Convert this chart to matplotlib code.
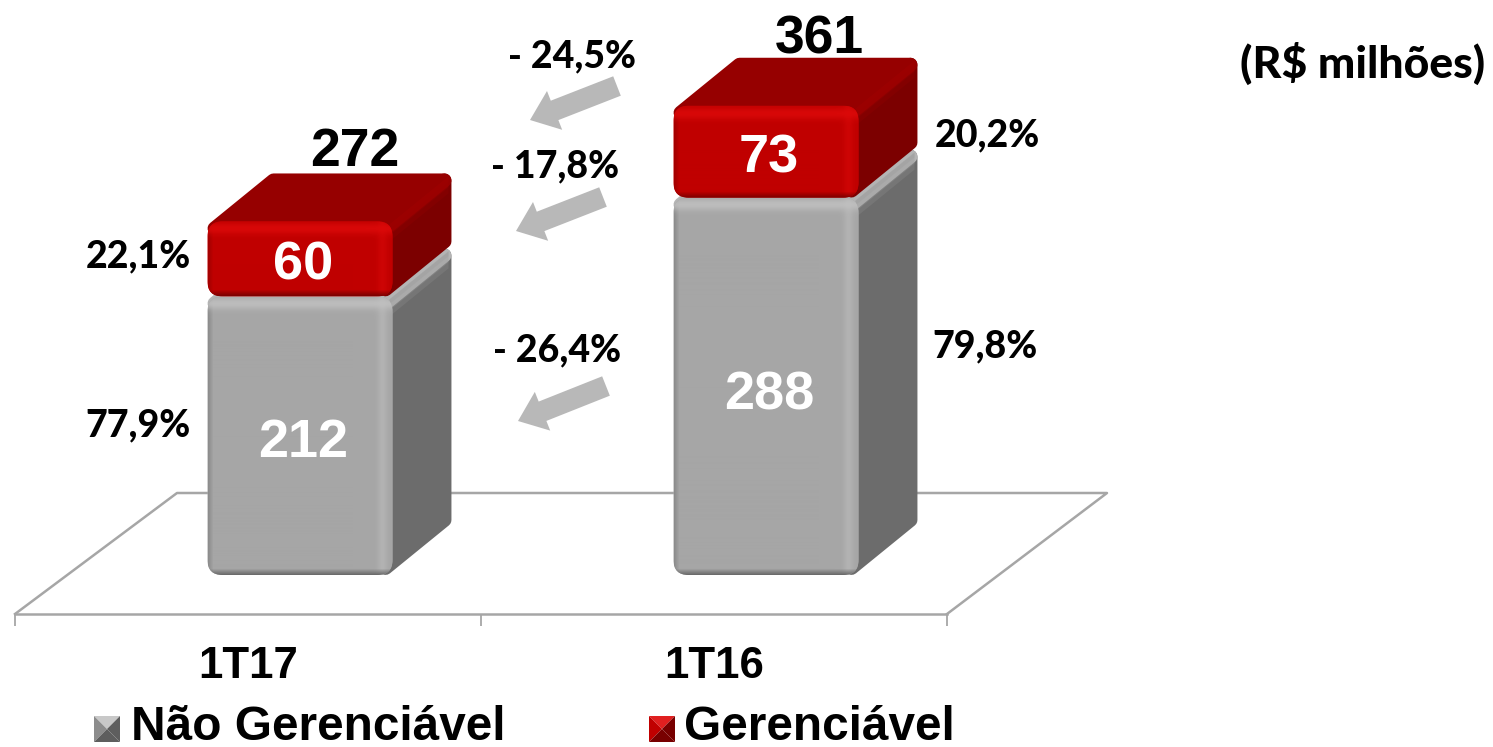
import matplotlib
matplotlib.use('Agg')
import matplotlib.pyplot as plt
import numpy as np
from matplotlib.colors import to_rgb
from matplotlib.patches import FancyBboxPatch, Polygon

W, H = 1493, 747

quarters = ['1T17', '1T16']
nao_gerenciavel = [212, 288]
gerenciavel = [60, 73]
totais = [272, 361]
pct_nao = ['77,9%', '79,8%']
pct_ger = ['22,1%', '20,2%']
variacoes = ['- 26,4%', '- 17,8%', '- 24,5%']

SANS = 'Liberation Sans'
LABEL = 'Lato'

fig = plt.figure(figsize=(W / 100, H / 100), dpi=100, facecolor='white')
# the axes box is the front edge of the 3d floor
ax = fig.add_axes([15 / W, (H - 614) / H, (947 - 15) / W, 614 / H])
PX_Y = 1.3
PX_X = 466
ax.set_xlim(-0.5, 1.5)
ax.set_ylim(-39 / PX_Y, 575 / PX_Y)
ax.patch.set_alpha(0)
for s in ['top', 'left', 'right']:
    ax.spines[s].set_visible(False)
ax.spines['bottom'].set_color('#a6a6a6')
ax.spines['bottom'].set_linewidth(1.8)
ax.set_yticks([])
ax.set_xticks([-0.5, 0.5, 1.5])
ax.set_xticklabels([])
ax.tick_params(axis='x', which='major', length=8.5, width=1.3, color='#a6a6a6')
ax.set_xticks([0, 1], minor=True)
ax.set_xticklabels(quarters, minor=True, fontsize=31.5, fontweight='bold', family=SANS)
ax.tick_params(axis='x', which='minor', length=0, pad=23)

BAR_W = 185 / PX_X
OFF = 52 / PX_X
DX = 59 / PX_X
DY = 48 / PX_Y


def dx(px):
    return px / PX_X


def dy(px):
    return px / PX_Y


# floor back and side edges
floor_y0 = ax.get_ylim()[0]
floor_col = '#a6a6a6'
ax.plot([-0.5, -0.5 + dx(162), 1.5 + dx(160), 1.5],
        [floor_y0, floor_y0 + dy(121), floor_y0 + dy(121), floor_y0],
        color=floor_col, lw=1.8, zorder=1, clip_on=False)


def front_img(base, light, dark, h_px):
    # bevel shading for the front face, purely cosmetic
    n = 185
    m = int(h_px)
    base, light, dark = np.array(base), np.array(light), np.array(dark)
    img = np.tile(base, (m, n, 1))
    u = np.arange(n)[None, :, None]
    v = np.arange(m)[:, None, None]
    band = 0.45 * np.exp(-((u - 174) / 5.0) ** 2)
    img = img * (1 - band) + light * band
    left = 0.35 * np.clip((5 - u) / 5.0, 0, 1)
    img = img * (1 - left) + dark * left
    top = 0.8 * np.exp(-((v - 7) / 6.0) ** 2)
    img = img * (1 - top) + light * top
    bot = 0.95 * np.clip((v - (m - 7)) / 7.0, 0, 1)
    img = img * (1 - bot) + dark * bot
    return img


def draw_bar(x, bottom, height, base, top_col, side_col, side_light, hi, dark, z):
    x0 = x + OFF - BAR_W / 2
    x1 = x0 + BAR_W
    y0 = bottom
    y1 = bottom + height
    ix, iy = dx(7), dy(7)
    side = Polygon([[x1 - ix, y0 + iy], [x1 + DX - ix, y0 + DY + iy],
                    [x1 + DX - ix, y1 + DY - iy], [x1 - ix, y1 - iy]],
                   closed=True, fc=side_col, ec=side_col, lw=10, joinstyle='round', zorder=z)
    ax.add_patch(side)
    top = Polygon([[x0 + ix, y1 - iy], [x0 + DX + ix, y1 + DY - iy],
                   [x1 + DX - ix, y1 + DY - iy], [x1 - ix, y1 - iy]],
                  closed=True, fc=top_col, ec=top_col, lw=10, joinstyle='round', zorder=z)
    ax.add_patch(top)
    # soft lighter strip on the side face, along its top edge
    for k, a in [(8, 0.45), (14, 0.3), (20, 0.2)]:
        strip = Polygon([[x1 - dx(3), y1 - dy(3)], [x1 + DX - dx(3), y1 + DY - dy(3)],
                         [x1 + DX - dx(3), y1 + DY - dy(k)], [x1 - dx(3), y1 - dy(k)]],
                        closed=True, fc=side_light, ec='none', alpha=a, zorder=z)
        ax.add_patch(strip)
    box = FancyBboxPatch((x0, y0), BAR_W, height,
                         boxstyle='round,pad=0,rounding_size=%f' % dx(15),
                         mutation_aspect=PX_X / PX_Y, fc=base, ec='none', zorder=z + 0.1)
    ax.add_patch(box)
    im = ax.imshow(front_img(to_rgb(base), to_rgb(hi), to_rgb(dark), height * PX_Y),
                   extent=[x0, x1, y0, y1], aspect='auto', zorder=z + 0.2)
    im.set_clip_path(box)


# the red block starts a little above the value, as in the source chart
SEAM = dy(3)
for i in range(len(quarters)):
    z = 3 + i
    draw_bar(i, 0, nao_gerenciavel[i] + SEAM, '#a6a6a6', '#b4b4b4', '#6c6c6c', '#a0a0a0',
             '#c2c2c2', '#5e5e5e', z)
    draw_bar(i, nao_gerenciavel[i] + SEAM, gerenciavel[i] - SEAM, '#c00000', '#960000', '#7c0000', '#a00000',
             '#de0a0a', '#6e0000', z + 0.5)
    cx = i + OFF + dx(3)
    ax.text(cx, nao_gerenciavel[i] * 0.48, str(nao_gerenciavel[i]), color='white', fontsize=39,
            fontweight='bold', family=SANS, ha='center', va='center', zorder=8)
    ax.text(cx, nao_gerenciavel[i] + gerenciavel[i] * 0.44, str(gerenciavel[i]), color='white',
            fontsize=39, fontweight='bold', family=SANS, ha='center', va='center', zorder=8)

ax.set_xlim(-0.5, 1.5)
ax.set_ylim(-39 / PX_Y, 575 / PX_Y)


def px_text(px, py, s, **kw):
    fig.text(px / W, 1 - py / H, s, ha='center', va='center', **kw)


# totals sit above the bars
px_text(355, 152, str(totais[0]), fontsize=38.5, fontweight='bold', family=SANS)
px_text(819, 39, str(totais[1]), fontsize=38.5, fontweight='bold', family=SANS)

lab = dict(fontsize=27, fontweight='black', family=LABEL)
px_text(138, 256, pct_ger[0], **lab)
px_text(138, 425, pct_nao[0], **lab)
px_text(987, 135, pct_ger[1], **lab)
px_text(985, 346, pct_nao[1], **lab)
px_text(572, 56, variacoes[2], **lab)
px_text(555, 166, variacoes[1], **lab)
px_text(557, 350, variacoes[0], **lab)
px_text(1363, 63, '(R$ milhões)', fontsize=32, fontweight='black', family=LABEL)

# grey arrows between the periods
for tail, tip in [((617, 86), (530, 120)), ((603, 197), (516, 231)), ((606, 386), (518, 421))]:
    ax.annotate('', xy=(tip[0], H - tip[1]), xytext=(tail[0], H - tail[1]),
                xycoords='figure pixels', textcoords='figure pixels',
                arrowprops=dict(arrowstyle='simple,head_width=30,head_length=19,tail_width=15',
                                mutation_scale=1, color='#b8b8b8', lw=0, shrinkA=0, shrinkB=0))


def legend_key(px, py, size, mid, light, dark):
    key = fig.add_axes([px / W, 1 - (py + size) / H, size / W, size / H])
    key.set_xlim(0, 1)
    key.set_ylim(0, 1)
    key.axis('off')
    c = (0.5, 0.5)
    key.add_patch(Polygon([(0, 1), (1, 1), c], fc=light, ec='none'))
    key.add_patch(Polygon([(0, 0), (0, 1), c], fc=mid, ec='none'))
    key.add_patch(Polygon([(1, 0), (1, 1), c], fc=dark, ec='none'))
    key.add_patch(Polygon([(0, 0), (1, 0), c], fc=dark, ec='none'))


legend_key(94, 716, 26, '#8c8c8c', '#c8c8c8', '#5e5e5e')
legend_key(649, 716, 26, '#c00000', '#e02020', '#780000')
fig.text(131 / W, 1 - 727 / H, 'Não Gerenciável', fontsize=34.4, fontweight='bold', family=SANS,
         ha='left', va='center')
fig.text(684 / W, 1 - 727 / H, 'Gerenciável', fontsize=34.4, fontweight='bold', family=SANS,
         ha='left', va='center')

fig.savefig('out.png', dpi=100, facecolor='white')
